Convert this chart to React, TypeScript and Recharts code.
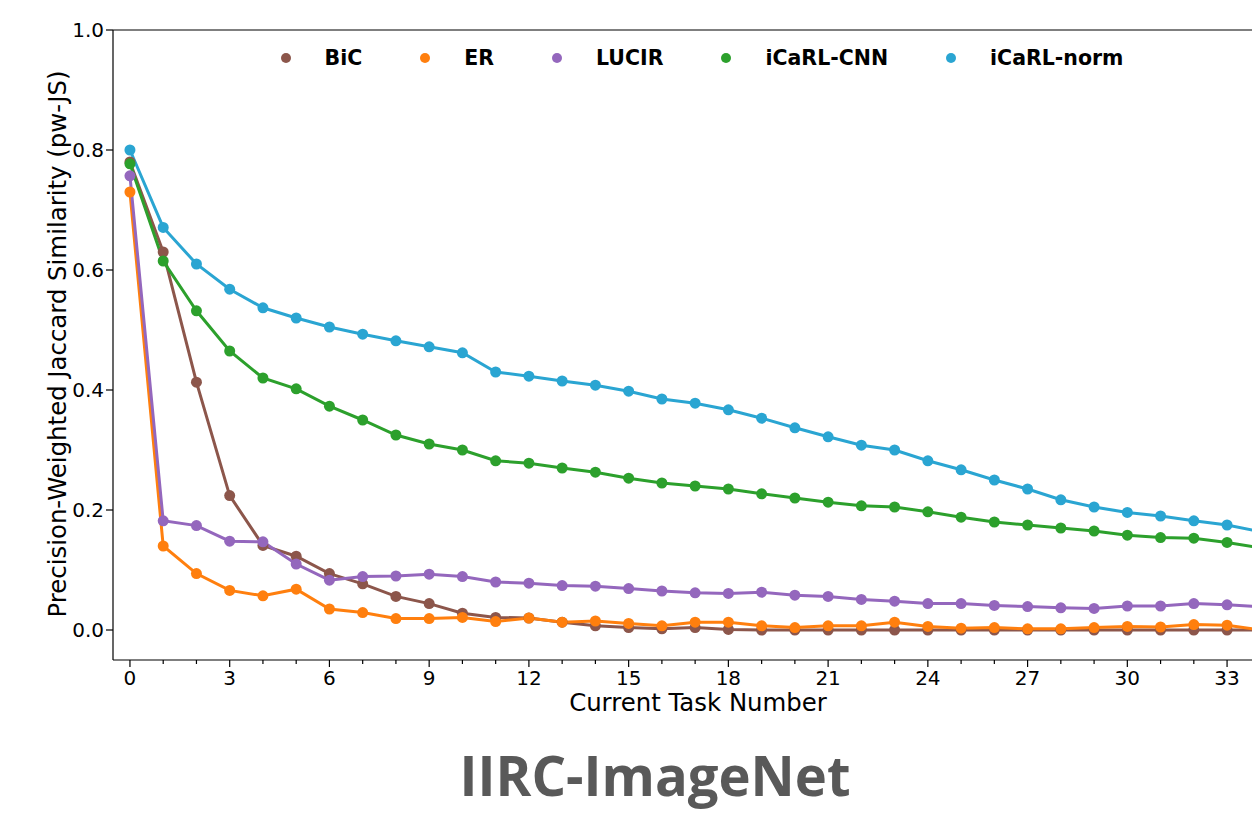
import React from "react";
import {
  LineChart,
  Line,
  XAxis,
  YAxis,
  ReferenceLine,
  Legend,
} from "recharts";

const tasks = [
  0, 1, 2, 3, 4, 5, 6, 7, 8, 9, 10, 11, 12, 13, 14, 15, 16, 17, 18, 19, 20, 21,
  22, 23, 24, 25, 26, 27, 28, 29, 30, 31, 32, 33, 34,
];

const bic = [
  0.78, 0.63, 0.413, 0.224, 0.141, 0.123, 0.094, 0.077, 0.056, 0.044, 0.028,
  0.021, 0.02, 0.013, 0.007, 0.004, 0.002, 0.004, 0.001, 0, 0, 0, 0, 0, 0, 0,
  0, 0, 0, 0, 0, 0, 0, 0, 0,
];

const er = [
  0.73, 0.14, 0.094, 0.066, 0.057, 0.068, 0.035, 0.029, 0.019, 0.019, 0.021,
  0.014, 0.02, 0.013, 0.015, 0.011, 0.007, 0.013, 0.013, 0.007, 0.004, 0.007,
  0.007, 0.013, 0.006, 0.003, 0.004, 0.002, 0.002, 0.004, 0.006, 0.005, 0.009,
  0.008, 0.0,
];

const lucir = [
  0.757, 0.182, 0.174, 0.148, 0.147, 0.11, 0.083, 0.089, 0.09, 0.093, 0.089,
  0.08, 0.078, 0.074, 0.073, 0.069, 0.065, 0.062, 0.061, 0.063, 0.058, 0.056,
  0.051, 0.048, 0.044, 0.044, 0.041, 0.039, 0.037, 0.036, 0.04, 0.04, 0.044,
  0.042, 0.039,
];

const icarlCnn = [
  0.777, 0.615, 0.532, 0.465, 0.42, 0.402, 0.373, 0.35, 0.325, 0.31, 0.3,
  0.282, 0.278, 0.27, 0.263, 0.253, 0.245, 0.24, 0.235, 0.227, 0.22, 0.213,
  0.207, 0.205, 0.197, 0.188, 0.18, 0.175, 0.17, 0.165, 0.158, 0.154, 0.153,
  0.146, 0.137,
];

const icarlNorm = [
  0.8, 0.671, 0.61, 0.568, 0.537, 0.52, 0.505, 0.493, 0.482, 0.472, 0.462,
  0.43, 0.423, 0.415, 0.408, 0.398, 0.385, 0.378, 0.367, 0.353, 0.337, 0.322,
  0.308, 0.3, 0.282, 0.267, 0.25, 0.235, 0.217, 0.205, 0.196, 0.19, 0.182,
  0.175, 0.164,
];

const xTicks = [
  0, 1, 2, 3, 4, 5, 6, 7, 8, 9, 10, 11, 12, 13, 14, 15, 16, 17, 18, 19, 20, 21,
  22, 23, 24, 25, 26, 27, 28, 29, 30, 31, 32, 33,
];
const yTicks = [0, 0.2, 0.4, 0.6, 0.8, 1.0];

const series = [
  { key: "bic", name: "BiC", color: "#8c564b", values: bic },
  { key: "er", name: "ER", color: "#ff7f0e", values: er },
  { key: "lucir", name: "LUCIR", color: "#9467bd", values: lucir },
  { key: "cnn", name: "iCaRL-CNN", color: "#2ca02c", values: icarlCnn },
  { key: "norm", name: "iCaRL-norm", color: "#2aa5d2", values: icarlNorm },
];

const chartData = tasks.map((t, i) => {
  const row: Record<string, number> = { task: t };
  series.forEach((s) => {
    row[s.key] = s.values[i];
  });
  return row;
});

const FONT = "DejaVu Sans";

// minor ticks every task, labels every 3
const XTick = (props: any) => {
  const { x, y, payload } = props;
  const major = payload.value % 3 === 0;
  return (
    <g>
      <line
        x1={x}
        x2={x}
        y1={y}
        y2={y + (major ? 7 : 4)}
        stroke="#000"
        strokeWidth={1.2}
      />
      {major && (
        <text
          x={x}
          y={y + 10}
          dy="0.75em"
          textAnchor="middle"
          fontSize={20}
          fontFamily={FONT}
          fill="#000"
        >
          {payload.value}
        </text>
      )}
    </g>
  );
};

const XLabel = () => (
  <text
    x={698}
    y={711}
    textAnchor="middle"
    fontSize={24.4}
    fontFamily={FONT}
    fill="#000"
  >
    Current Task Number
  </text>
);

const YLabel = () => (
  <text
    transform="translate(66,344) rotate(-90)"
    textAnchor="middle"
    fontSize={24.4}
    fontFamily={FONT}
    fill="#000"
  >
    Precision-Weighted Jaccard Similarity (pw-JS)
  </text>
);

const renderLegend = () => (
  <div
    style={{
      display: "flex",
      justifyContent: "center",
      alignItems: "center",
      gap: 58,
      fontFamily: FONT,
      fontWeight: 700,
      fontSize: 20.5,
      color: "#000",
    }}
  >
    {series.map((s) => (
      <div key={s.key} style={{ display: "flex", alignItems: "center" }}>
        <span
          style={{
            display: "inline-block",
            width: 10,
            height: 10,
            borderRadius: 5,
            background: s.color,
            marginRight: 34,
          }}
        />
        <span>{s.name}</span>
      </div>
    ))}
  </div>
);

export default function App() {
  return (
    <div
      style={{
        position: "absolute",
        left: 0,
        top: 0,
        width: 1252,
        height: 814,
        background: "#fff",
        overflow: "hidden",
      }}
    >
      <LineChart
        width={1252}
        height={814}
        data={chartData}
        margin={{ top: 30, right: 0, bottom: 0, left: 0 }}
      >
        <XAxis
          dataKey="task"
          type="number"
          domain={[-0.51, 33.75]}
          allowDataOverflow
          ticks={xTicks}
          interval={0}
          tick={<XTick />}
          tickLine={false}
          tickSize={0}
          tickMargin={0}
          height={154}
          axisLine={{ stroke: "#000", strokeWidth: 1.2 }}
          label={<XLabel />}
        />
        <YAxis
          type="number"
          domain={[-0.05, 1.0]}
          allowDataOverflow
          ticks={yTicks}
          width={113}
          tickFormatter={(v: number) => v.toFixed(1)}
          tick={{ fontSize: 20, fill: "#000", fontFamily: FONT }}
          tickLine={{ stroke: "#000", strokeWidth: 1.2 }}
          tickSize={7}
          tickMargin={2}
          axisLine={{ stroke: "#000", strokeWidth: 1.2 }}
          label={<YLabel />}
        />
        <ReferenceLine y={1} stroke="#000" strokeWidth={1.2} />
        <Legend
          content={renderLegend}
          layout="horizontal"
          verticalAlign="middle"
          align="center"
          wrapperStyle={{ top: 46, left: 113, width: 1178 }}
        />
        {series.map((s) => (
          <Line
            key={s.key}
            dataKey={s.key}
            name={s.name}
            type="linear"
            stroke={s.color}
            strokeWidth={3}
            dot={{ r: 5.5, fill: s.color, stroke: "none" }}
            activeDot={false}
            isAnimationActive={false}
          />
        ))}
      </LineChart>
      <svg
        width={1252}
        height={814}
        style={{ position: "absolute", left: 0, top: 0, pointerEvents: "none" }}
      >
        <text
          x={655}
          y={796}
          textAnchor="middle"
          fontFamily="Open Sans"
          fontWeight={700}
          fontSize={56}
          fill="#595959"
          textLength={391}
          lengthAdjust="spacingAndGlyphs"
        >
          IIRC-ImageNet
        </text>
      </svg>
    </div>
  );
}
